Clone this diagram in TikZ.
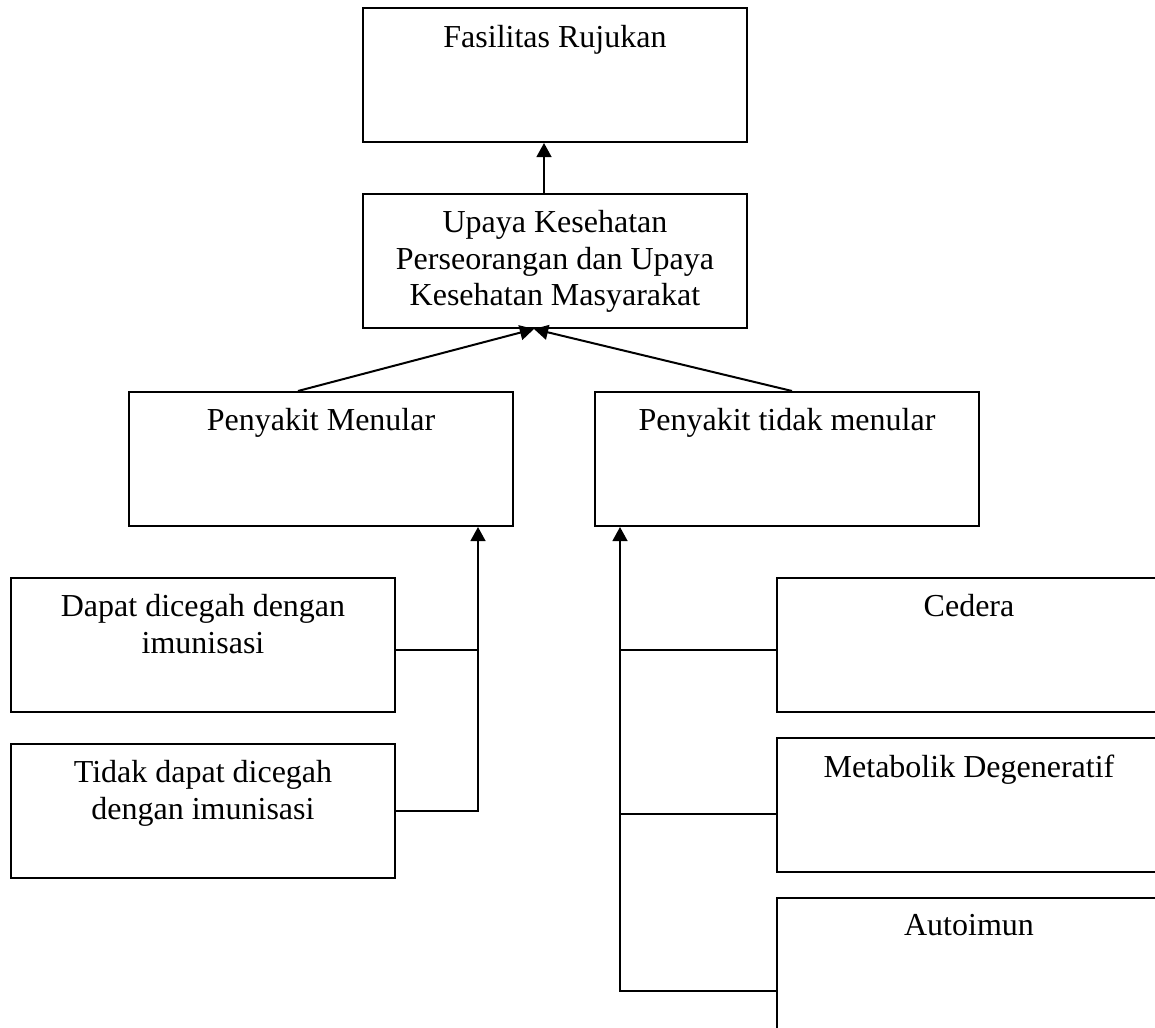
\documentclass[tikz,border=0pt]{standalone}
\usepackage{fontspec}
\setmainfont{Liberation Serif}
\usetikzlibrary{calc,positioning,arrows.meta}

\begin{document}
\begin{tikzpicture}[
  x=0.375pt, y=-0.375pt,
  box/.style={draw, line width=.75pt, rectangle, anchor=north west,
    minimum width=144pt, minimum height=50.25pt, inner sep=0pt},
  widebox/.style={box, minimum width=153.75pt},
  lbl/.style={anchor=north, align=center, inner sep=0pt,
    font=\fontsize{12}{13.7}\selectfont},
  conn/.style={line width=.75pt},
  arrow/.style={conn, -{Triangle[length=5.3pt,width=5.6pt]}},
  ]

  \useasboundingbox (0,0) rectangle (1155,1028);
  \clip (0,0) rectangle (1155,1028);

  % boxes
  \node (rujukan) [box] at(362,7) {};
  \node (upaya) [box] at(362,193) {};
  \node (menular) [box] at(128,391) {};
  \node (tdkmenular) [box] at(594,391) {};
  \node (imun) [box] at(10,577) {};
  \node (nonimun) [box] at(10,743) {};
  % right column runs off the page
  \node (cedera) [widebox] at(776,577) {};
  \node (metabolik) [widebox] at(776,737) {};
  \node (autoimun) [widebox, minimum height=69.75pt] at(776,897) {};

  % texts, hanging from the top of each box
  \node (rujukan_txt) [lbl] at($(rujukan.north)+(0,18)$) {Fasilitas Rujukan};
  \node (upaya_txt) [lbl] at($(upaya.north)+(0,17)$) {Upaya Kesehatan\\Perseorangan dan Upaya\\Kesehatan Masyarakat};
  \node (menular_txt) [lbl] at($(menular.north)+(0,17)$) {Penyakit Menular};
  \node (tdkmenular_txt) [lbl] at($(tdkmenular.north)+(0,17)$) {Penyakit tidak menular};
  \node (imun_txt) [lbl] at($(imun.north)+(0,17)$) {Dapat dicegah dengan\\imunisasi};
  \node (nonimun_txt) [lbl] at($(nonimun.north)+(0,17)$) {Tidak dapat dicegah\\dengan imunisasi};
  \node (cedera_txt) [lbl] at($(cedera.north)+(-13,17)$) {Cedera};
  \node (metabolik_txt) [lbl] at($(metabolik.north)+(-13,17)$) {Metabolik Degeneratif};
  \node (autoimun_txt) [lbl] at($(autoimun.north)+(-13,17)$) {Autoimun};

  % upward links
  \draw[arrow] ([xshift=-4.125pt]upaya.north) -- ([xshift=-4.125pt]rujukan.south);
  \draw[arrow] ([xshift=-8.625pt]menular.north) -- ([xshift=-7.875pt]upaya.south);
  \draw[arrow] ([xshift=1.875pt]tdkmenular.north) -- ([xshift=-7.875pt]upaya.south);

  % left bracket
  \coordinate (menular_in) at ([xshift=-13.5pt]menular.south east);
  \draw[arrow] (nonimun.east) -| (menular_in);
  \draw[conn] ([yshift=-1.9pt]imun.east) -- ([yshift=-1.9pt]imun.east -| menular_in);

  % right bracket
  \coordinate (tdkmenular_in) at ([xshift=9.75pt]tdkmenular.south west);
  \draw[arrow] (autoimun.west) -| (tdkmenular_in);
  \draw[conn] ([yshift=-1.9pt]cedera.west) -- ([yshift=-1.9pt]cedera.west -| tdkmenular_in);
  \draw[conn] ([yshift=-3.2pt]metabolik.west) -- ([yshift=-3.2pt]metabolik.west -| tdkmenular_in);

\end{tikzpicture}
\end{document}
